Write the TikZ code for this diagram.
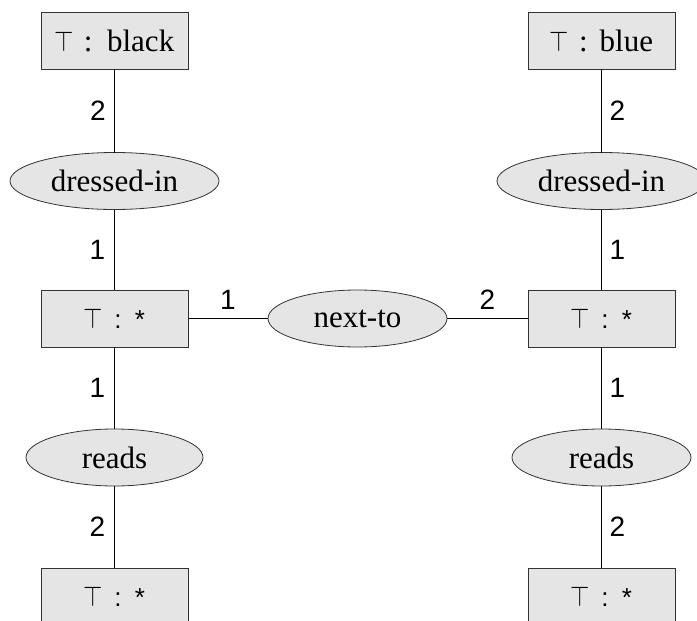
\documentclass[tikz,border=0pt]{standalone}
\usepackage{fontspec}
\usepackage{graphicx}
\setmainfont{Liberation Serif}
\newfontfamily\numfont{Liberation Sans}
\usetikzlibrary{shapes.geometric}
\newcommand\mytop{{\fontsize{24}{28}\selectfont\scalebox{1}[1.15]{$\top$}}}
\newcommand\starlabel{\mytop\hspace{11pt}{\numfont\fontsize{26}{30}\selectfont :\hspace{13.5pt}*}}
\begin{document}
\begin{tikzpicture}[x=1pt,y=-1pt,
  every node/.style={inner sep=0pt, outer sep=0pt},
  cbox/.style={draw=black!80, fill=gray!20, line width=0.8pt, minimum width=147pt, minimum height=57pt, font=\fontsize{31}{34}\selectfont},
  rel/.style={ellipse, draw=black!80, fill=gray!20, line width=0.8pt, minimum height=57pt, font=\fontsize{31}{34}\selectfont},
  lab/.style={font=\numfont\fontsize{28}{30}\selectfont},
  conn/.style={draw=black, line width=0.8pt}]
\clip (0,0) rectangle (697,621);
% boxes
\node[cbox] (tl) at (114.5,40.5) {\mytop\hspace{9.7pt}:\hspace{14.7pt}black};
\node[cbox] (tr) at (601.5,40.5) {\mytop\hspace{9.7pt}:\hspace{12pt}blue};
\node[cbox] (ml) at (114.5,318.5) {\starlabel};
\node[cbox] (mr) at (601.5,318.5) {\starlabel};
\node[cbox] (bl) at (114.5,596.5) {\starlabel};
\node[cbox] (br) at (601.5,596.5) {\starlabel};
% relations
\node[rel, minimum width=209pt] (dl) at (114.5,181) {dressed-in};
\node[rel, minimum width=209pt] (dr) at (601.5,181) {dressed-in};
\node[rel, minimum width=179pt] (nt) at (357.5,318.5) {next-to};
\node[rel, minimum width=177pt] (rl) at (114.5,457.5) {reads};
\node[rel, minimum width=179pt] (rr) at (601.5,457.5) {reads};
% connectors
\draw[conn] (tl) -- node[lab, xshift=-16.5pt] {2} (dl);
\draw[conn] (dl) -- node[lab, xshift=-17pt] {1} (ml);
\draw[conn] (ml) -- node[lab, xshift=-17pt] {1} (rl);
\draw[conn] (rl) -- node[lab, xshift=-17pt] {2} (bl);
\draw[conn] (tr) -- node[lab, xshift=16pt] {2} (dr);
\draw[conn] (dr) -- node[lab, xshift=16pt] {1} (mr);
\draw[conn] (mr) -- node[lab, xshift=16pt] {1} (rr);
\draw[conn] (rr) -- node[lab, xshift=16pt] {2} (br);
\draw[conn] (ml) -- node[lab, yshift=18.5pt] {1} (nt);
\draw[conn] (nt) -- node[lab, yshift=18.5pt] {2} (mr);
\end{tikzpicture}
\end{document}
